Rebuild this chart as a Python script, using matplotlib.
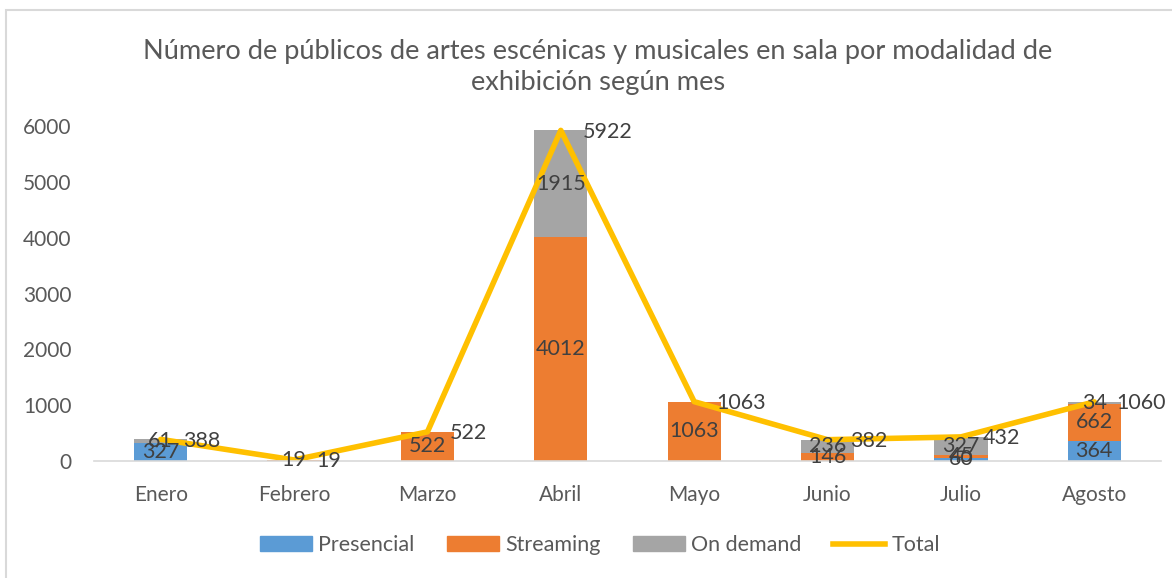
import matplotlib.pyplot as plt
from matplotlib.patches import Rectangle
from matplotlib.lines import Line2D
import numpy as np

plt.rcParams["font.family"] = ["Lato", "DejaVu Sans"]

months = ["Enero", "Febrero", "Marzo", "Abril", "Mayo", "Junio", "Julio", "Agosto"]
presencial = [327, 0, 0, 0, 0, 0, 60, 364]
streaming = [0, 19, 522, 4012, 1063, 146, 45, 662]
on_demand = [61, 0, 0, 1915, 0, 236, 327, 34]
total = [388, 19, 522, 5922, 1063, 382, 432, 1060]

c_pres = "#5B9BD5"
c_str = "#ED7D31"
c_dem = "#A5A5A5"
c_tot = "#FFC000"
txt = "#404040"

fig = plt.figure(figsize=(11.72, 5.78), dpi=100)
ax = fig.add_axes([0.0802, 0.2024, 0.9104, 0.5796])

# light frame around the chart area
fig.patches.append(Rectangle((6 / 1172, -0.1), 1.2, 1.1 - 10.5 / 578,
                             transform=fig.transFigure, fill=False,
                             edgecolor="#D9D9D9", linewidth=1.5))

x = np.arange(len(months))
w = 0.4
pres = np.array(presencial)
strm = np.array(streaming)
dem = np.array(on_demand)

ax.bar(x, pres, w, color=c_pres, label="Presencial")
ax.bar(x, strm, w, bottom=pres, color=c_str, label="Streaming")
ax.bar(x, dem, w, bottom=pres + strm, color=c_dem, label="On demand")
ax.plot(x, total, color=c_tot, linewidth=4, label="Total", solid_capstyle="round")

fs = 15.5
for i in range(len(months)):
    if pres[i]:
        ax.text(x[i], pres[i] / 2, str(pres[i]), ha="center", va="center", fontsize=fs, color=txt)
    if strm[i]:
        ax.text(x[i], pres[i] + strm[i] / 2, str(strm[i]), ha="center", va="center", fontsize=fs, color=txt)
    if dem[i]:
        ax.text(x[i], pres[i] + strm[i] + dem[i] / 2, str(dem[i]), ha="center", va="center", fontsize=fs, color=txt)
    ax.annotate(str(total[i]), (x[i], total[i]), xytext=(16, -1), textcoords="offset points",
                ha="left", va="center", fontsize=fs, color=txt)

ax.set_xlim(-0.5, len(months) - 0.5)
ax.set_ylim(0, 6000)
ax.set_yticks(range(0, 7000, 1000))
ax.set_xticks(x)
ax.set_xticklabels(months)
ax.tick_params(axis="both", length=0, labelsize=15, colors="#595959")
ax.tick_params(axis="x", pad=17)
ax.tick_params(axis="y", pad=16)
for s in ["top", "right", "left"]:
    ax.spines[s].set_visible(False)
ax.spines["bottom"].set_color("#D9D9D9")
ax.spines["bottom"].set_linewidth(1.2)

fig.text(0.510, 0.884, "Número de públicos de artes escénicas y musicales en sala por modalidad de\nexhibición según mes",
         ha="center", va="center", fontsize=19.6, color="#595959", linespacing=1.3)

handles = [Rectangle((0, 0), 1, 1, color=c_pres), Rectangle((0, 0), 1, 1, color=c_str),
           Rectangle((0, 0), 1, 1, color=c_dem), Line2D([0], [0], color=c_tot, linewidth=4)]
fig.legend(handles, ["Presencial", "Streaming", "On demand", "Total"], loc="center",
           bbox_to_anchor=(0.512, 0.057), ncol=4, frameon=False, fontsize=15.5,
           labelcolor="#595959", handlelength=2.42, handleheight=0.65, handletextpad=0.28,
           columnspacing=1.5)

plt.savefig("out.png", dpi=100)
